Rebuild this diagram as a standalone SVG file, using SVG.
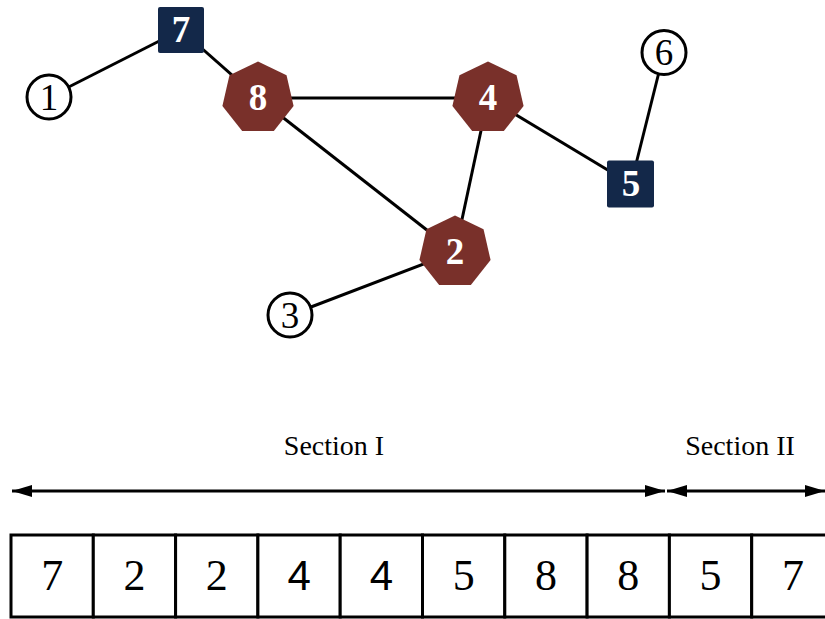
<svg xmlns="http://www.w3.org/2000/svg" xmlns:xlink="http://www.w3.org/1999/xlink" width="825" height="619" viewBox="0 0 825 619">
  <style>
    .edge { stroke: #000; stroke-width: 3; fill: none; }
    .hub { fill: #79302a; }
    .sq { fill: #132849; }
    .leaf { fill: #fff; stroke: #000; stroke-width: 3; }
    .lbl-w { font-family: "Liberation Serif", "Times New Roman", serif; font-weight: bold; font-size: 37px; fill: #fff; text-anchor: middle; }
    .lbl-b { font-family: "Liberation Serif", "Times New Roman", serif; font-size: 37px; fill: #000; text-anchor: middle; }
    .cell { fill: #fff; stroke: #000; stroke-width: 3; }
    .cell-t { font-family: "Liberation Serif", "Times New Roman", serif; font-size: 44px; fill: #000; text-anchor: middle; }
    .cell-s { font-family: "Liberation Sans", Arial, sans-serif; font-size: 42px; fill: #000; text-anchor: middle; }
    .sec { font-family: "Liberation Serif", "Times New Roman", serif; font-size: 28px; fill: #000; text-anchor: middle; }
    .span { stroke: #000; stroke-width: 3; fill: none; }
  </style>
  <defs>
    <polygon id="hept" points="0,-36.5 28.54,-22.74 35.59,8.12 15.84,32.89 -15.84,32.89 -35.59,8.12 -28.54,-22.74"/>
    <marker id="head" viewBox="0 0 20 12" refX="20" refY="6" markerWidth="20" markerHeight="12" markerUnits="userSpaceOnUse" orient="auto-start-reverse">
      <path d="M0,0 L20,6 L0,12 Z" fill="#000"/>
    </marker>
  </defs>

  <!-- graph edges -->
  <g id="edges">
    <line class="edge" x1="49" y1="97" x2="181" y2="30"/>
    <line class="edge" x1="181" y1="30" x2="258" y2="98"/>
    <line class="edge" x1="258" y1="98" x2="488" y2="98"/>
    <line class="edge" x1="258" y1="98" x2="455" y2="252"/>
    <line class="edge" x1="488" y1="98" x2="455" y2="252"/>
    <line class="edge" x1="488" y1="98" x2="631" y2="184"/>
    <line class="edge" x1="631" y1="184" x2="664" y2="52"/>
    <line class="edge" x1="455" y1="252" x2="290" y2="315"/>
  </g>

  <!-- graph nodes -->
  <g id="node-1">
    <circle class="leaf" cx="49" cy="97" r="22"/>
    <text class="lbl-b" x="49" y="110">1</text>
  </g>
  <g id="node-7">
    <rect class="sq" x="158" y="7" width="46" height="46" rx="2"/>
    <text class="lbl-w" x="181" y="42">7</text>
  </g>
  <g id="node-8">
    <use xlink:href="#hept" class="hub" transform="translate(258,98)"/>
    <text class="lbl-w" x="258" y="110">8</text>
  </g>
  <g id="node-4">
    <use xlink:href="#hept" class="hub" transform="translate(488,98)"/>
    <text class="lbl-w" x="488" y="110">4</text>
  </g>
  <g id="node-2">
    <use xlink:href="#hept" class="hub" transform="translate(455,252)"/>
    <text class="lbl-w" x="455" y="264">2</text>
  </g>
  <g id="node-5">
    <rect class="sq" x="607" y="160.5" width="47" height="47" rx="2"/>
    <text class="lbl-w" x="631" y="196">5</text>
  </g>
  <g id="node-6">
    <circle class="leaf" cx="664" cy="52.5" r="22"/>
    <text class="lbl-b" x="664" y="65">6</text>
  </g>
  <g id="node-3">
    <circle class="leaf" cx="290" cy="315" r="22"/>
    <text class="lbl-b" x="290" y="328">3</text>
  </g>

  <!-- section spans -->
  <g id="sections">
    <text class="sec" x="334" y="455">Section I</text>
    <text class="sec" x="740" y="455">Section II</text>
    <line class="span" x1="12" y1="491" x2="665" y2="491" marker-start="url(#head)" marker-end="url(#head)"/>
    <line class="span" x1="667" y1="491" x2="825" y2="491" marker-start="url(#head)" marker-end="url(#head)"/>
  </g>

  <!-- sequence cells -->
  <g id="sequence">
    <rect class="cell" x="11" y="535" width="82.3" height="82"/>
    <rect class="cell" x="93.3" y="535" width="82.3" height="82"/>
    <rect class="cell" x="175.6" y="535" width="82.3" height="82"/>
    <rect class="cell" x="257.9" y="535" width="82.3" height="82"/>
    <rect class="cell" x="340.2" y="535" width="82.3" height="82"/>
    <rect class="cell" x="422.5" y="535" width="82.3" height="82"/>
    <rect class="cell" x="504.8" y="535" width="82.3" height="82"/>
    <rect class="cell" x="587.1" y="535" width="82.3" height="82"/>
    <rect class="cell" x="669.4" y="535" width="82.3" height="82"/>
    <rect class="cell" x="751.7" y="535" width="82.3" height="82"/>
    <text class="cell-t" x="52.2" y="590">7</text>
    <text class="cell-t" x="134.5" y="590">2</text>
    <text class="cell-t" x="216.8" y="590">2</text>
    <text class="cell-s" x="299.1" y="590">4</text>
    <text class="cell-s" x="381.4" y="590">4</text>
    <text class="cell-t" x="463.7" y="590">5</text>
    <text class="cell-t" x="546" y="590">8</text>
    <text class="cell-t" x="628.3" y="590">8</text>
    <text class="cell-t" x="710.6" y="590">5</text>
    <text class="cell-t" x="792.9" y="590">7</text>
  </g>
</svg>
